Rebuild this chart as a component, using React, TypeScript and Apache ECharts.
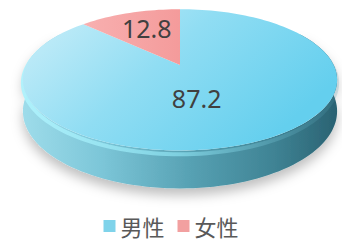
import React, { useEffect, useRef } from "react";
import * as echarts from "echarts";

const categories = ["男性", "女性"];
const values = [87.2, 12.8];
const sliceColors = ["#7fd3ea", "#f2a0a0"];

const CX = 180, CY = 65, SX = 153.6, SY = 67.5, RP = 0.21, TH = 30;

function proj(tDeg: number, rho: number, z: number) {
  const t = (tDeg * Math.PI) / 180;
  const X = rho * Math.sin(t);
  const d = -rho * Math.cos(t);
  const w = 1 - RP * d;
  return [CX + (SX * X) / w, CY + (SY * d + TH * z) / w];
}

function arcPts(a0: number, a1: number, rho: number, z: number) {
  const pts: number[][] = [];
  const n = Math.max(2, Math.ceil(Math.abs(a1 - a0) / 2));
  for (let i = 0; i <= n; i++) pts.push(proj(a0 + ((a1 - a0) * i) / n, rho, z));
  return pts;
}

const total = values.reduce((a, b) => a + b, 0);

export default function App() {
  const ref = useRef<HTMLDivElement>(null);
  useEffect(() => {
    document.body.style.margin = "0";
    const chart = echarts.init(ref.current!, undefined, { renderer: "svg" });
    const series = categories.map((name, si) => ({
      type: "custom",
      name,
      coordinateSystem: "none",
      itemStyle: { color: sliceColors[si] },
      data: [[values[si]]],
      z: si === 0 ? 2 : 3,
      renderItem: (params: any, api: any) => {
        const v = api.value(0);
        let start = 0;
        for (let k = 0; k < si; k++) start += values[k];
        const a0 = (start / total) * 360;
        const a1 = ((start + v) / total) * 360;
        const children: any[] = [];
        const s0 = Math.max(a0, 60), s1 = Math.min(a1, 300);
        if (s1 > s0) {
          const top = arcPts(s0, s1, 1, 0);
          const bot = arcPts(s1, s0, 1, 1);
          children.push({
            type: "polygon",
            shape: { points: top.concat(bot) },
            style: {
              fill: {
                type: "linear", x: 0, y: 0, x2: 1, y2: 0,
                colorStops: [
                  { offset: 0, color: "#9edcea" },
                  { offset: 0.25, color: "#7cc6d8" },
                  { offset: 0.55, color: "#559fb1" },
                  { offset: 0.8, color: "#3f8394" },
                  { offset: 1, color: "#2a6272" },
                ],
              },
              shadowBlur: 12,
              shadowColor: "rgba(0,0,0,0.25)",
              shadowOffsetY: 7,
            },
          });
          children.push({
            type: "polyline",
            shape: { points: arcPts(Math.max(a0, 68), Math.min(a1, 292), 1, 0.1) },
            style: {
              fill: null,
              lineWidth: 4,
              stroke: {
                type: "linear", x: 0, y: 0, x2: 1, y2: 0,
                colorStops: [
                  { offset: 0, color: "rgba(175,242,252,0.95)" },
                  { offset: 0.5, color: "rgba(140,225,240,0.7)" },
                  { offset: 1, color: "rgba(80,150,170,0.2)" },
                ],
              },
            },
          });
        }
        const topPts = [proj(0, 0, 0)].concat(arcPts(a0, a1, 1, 0));
        children.push({
          type: "polygon",
          shape: { points: topPts },
          style: {
            fill:
              si === 0
                ? {
                    type: "linear", x: 0, y: 0, x2: 1, y2: 0.5,
                    colorStops: [
                      { offset: 0, color: "#cdeff9" },
                      { offset: 0.5, color: "#90ddf3" },
                      { offset: 1, color: "#64cfee" },
                    ],
                  }
                : {
                    type: "linear", x: 0, y: 0, x2: 1, y2: 0,
                    colorStops: [
                      { offset: 0, color: "#f8b0b0" },
                      { offset: 1, color: "#f49b9b" },
                    ],
                  },
          },
        });
        const mid = (a0 + a1) / 2;
        const lp = proj(mid, si === 0 ? 0.45 : 0.6, 0);
        children.push({
          type: "text",
          x: lp[0] + (si === 0 ? -13 : -1),
          y: lp[1] + (si === 0 ? 2 : -4),
          style: {
            text: String(v),
            fill: "#404040",
            fontSize: 25,
            fontFamily: "Noto Sans",
            align: "center",
            verticalAlign: "middle",
            textAlign: "center",
            textVerticalAlign: "middle",
          },
        });
        return { type: "group", children };
      },
    }));
    chart.setOption({
      animation: false,
      legend: {
        data: categories,
        top: 214,
        padding: 0,
        left: "center",
        icon: "rect",
        itemWidth: 12,
        itemHeight: 12,
        itemGap: 13,
        textStyle: { fontSize: 22, lineHeight: 24, color: "#595959", fontFamily: "Noto Sans CJK SC" },
      },
      series,
    });
    return () => chart.dispose();
  }, []);
  return <div ref={ref} style={{ width: 342, height: 241 }} />;
}
